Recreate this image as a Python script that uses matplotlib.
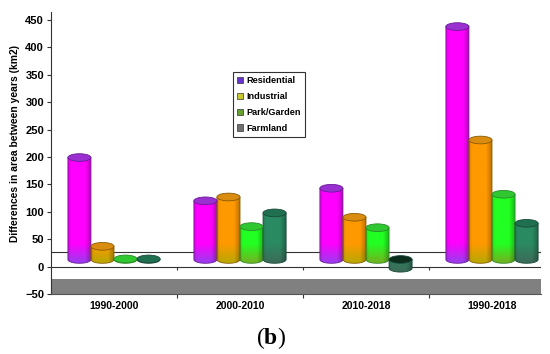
import numpy as np
import matplotlib.pyplot as plt
from matplotlib.patches import Ellipse, PathPatch, Patch
from matplotlib.path import Path
from matplotlib.colors import to_rgb

periods = ['1990-2000', '2000-2010', '2010-2018', '1990-2018']
classes = ['Residential', 'Industrial', 'Park/Garden', 'Farmland']
residential = [186, 107, 130, 425]
industrial = [24, 114, 77, 218]
park = [1, 60, 58, 119]
farmland = [1, 85, -16, 66]
yticks = [-50, 0, 50, 100, 150, 200, 250, 300, 350, 400, 450]

series = [residential, industrial, park, farmland]
body_top = ['#ff00ff', '#ff9900', '#22ff22', '#2a8a62']
body_bot = ['#9a3cec', '#b8a800', '#74b020', '#3c6a58']
cap_col = ['#9a30d0', '#d98c10', '#30c830', '#1f7050']
edge_col = ['#6a1a9a', '#8a5a00', '#2a8a2a', '#1a4a3a']
legend_col = ['#6633cc', '#c8c830', '#66a030', '#707070']

plt.rcParams['font.family'] = ['Liberation Sans', 'DejaVu Sans']
plt.rcParams['mathtext.fontset'] = 'custom'
plt.rcParams['mathtext.rm'] = 'Liberation Serif'
plt.rcParams['mathtext.bf'] = 'Liberation Serif:bold'

fig = plt.figure(figsize=(5.5, 3.54), dpi=100)
ax = fig.add_axes([51 / 550, 60 / 354, 490 / 550, 282 / 354])
ax.set_xlim(-0.5, 3.389)
ax.set_ylim(-50, 464.6)

base = 13      # floor plane of the bars (3D offset)
bw = 0.183
eh = 14        # ellipse height in data units
grad = 35


def cylinder(cx, val, k):
    x0, x1 = cx - bw / 2, cx + bw / 2
    yt = base + max(val, 0)
    yb = base + min(val, 0)
    # body outline: rectangle + lower half ellipse
    th = np.linspace(np.pi, 2 * np.pi, 40)
    ex = cx + bw / 2 * np.cos(th)
    ey = yb + eh / 2 * np.sin(th)
    verts = [(x0, yt)] + list(zip(ex, ey)) + [(x1, yt), (x0, yt)]
    path = Path(verts, [Path.MOVETO] + [Path.LINETO] * (len(verts) - 2) + [Path.CLOSEPOLY])
    ylo, yhi = yb - eh / 2, yt
    ny, nx = 120, 40
    yy = np.linspace(yhi, ylo, ny)[:, None]
    uu = np.linspace(0, 1, nx)[None, :]
    mix = np.clip(1 - (yy - ylo) / grad, 0, 1)
    c0, c1 = np.array(to_rgb(body_top[k])), np.array(to_rgb(body_bot[k]))
    img = c0[None, None, :] * (1 - mix[..., None]) + c1[None, None, :] * mix[..., None]
    shade = 1 - 0.3 * np.clip((uu - 0.72) / 0.28, 0, 1) - 0.12 * np.clip((0.12 - uu) / 0.12, 0, 1)
    img = img * shade[..., None]
    im = ax.imshow(img, extent=[x0, x1, ylo, yhi], aspect='auto', zorder=3,
                   interpolation='bilinear')
    pp = PathPatch(path, facecolor='none', edgecolor=edge_col[k], lw=0.6, zorder=4)
    ax.add_patch(pp)
    im.set_clip_path(pp)
    top_c = cap_col[k] if val >= 0 else '#0c2c1c'
    ax.add_patch(Ellipse((cx, yt), bw, eh, facecolor=top_c, edgecolor=edge_col[k],
                         lw=0.6, zorder=5))


for k, vals in enumerate(series):
    for i, v in enumerate(vals):
        cylinder(i + (k - 1.5) * bw, v, k)

# floor / walls
ax.axhspan(-50, -22, color='#808080', zorder=1, lw=0)
ax.axhline(27, color='#333333', lw=0.8, zorder=1)
ax.axhline(0, color='#333333', lw=0.8, zorder=1)
ax.vlines([0.5, 1.5, 2.5], -6, 0, color='#333333', lw=0.8, zorder=1)

for s in ['top', 'right']:
    ax.spines[s].set_visible(False)
ax.spines['left'].set_color('#333333')
ax.spines['bottom'].set_color('#555555')
ax.set_yticks(yticks)
ax.tick_params(axis='y', labelsize=8, length=3, width=0.8, pad=2, color='#333333')
for t in ax.get_yticklabels():
    t.set_fontweight('bold')
ax.set_xticks([0.5, 1.5, 2.5])
ax.set_xticklabels([])
ax.set_xticks(range(len(periods)), minor=True)
ax.set_xticklabels(periods, minor=True, fontsize=7.5, fontweight='bold')
ax.tick_params(axis='x', which='major', length=3, width=0.8, color='#333333')
ax.tick_params(axis='x', which='minor', length=0, pad=5)

ax.set_ylabel('Differences in area between years (km2)', fontsize=7.4, fontweight='bold')
ax.yaxis.set_label_coords(-0.063, 0.535)

handles = [Patch(facecolor=c, edgecolor='#333333', lw=0.5) for c in legend_col]
leg = ax.legend(handles, classes, loc='upper left', bbox_to_anchor=(0.371, 0.787),
                fancybox=False, edgecolor='#333333', framealpha=1,
                prop={'size': 6.6, 'weight': 'bold'}, handlelength=0.7, handleheight=0.7,
                handletextpad=0.3, labelspacing=0.75, borderpad=0.45, borderaxespad=0)
leg.get_frame().set_linewidth(0.8)
leg.set_zorder(10)

# panel label "(b)": plain parentheses, bold b
fig.text(271 / 550, 1 - 344 / 354, r'$(\mathbf{b})$', fontsize=17,
         ha='center', va='baseline')

fig.savefig('out.png', dpi=100)
